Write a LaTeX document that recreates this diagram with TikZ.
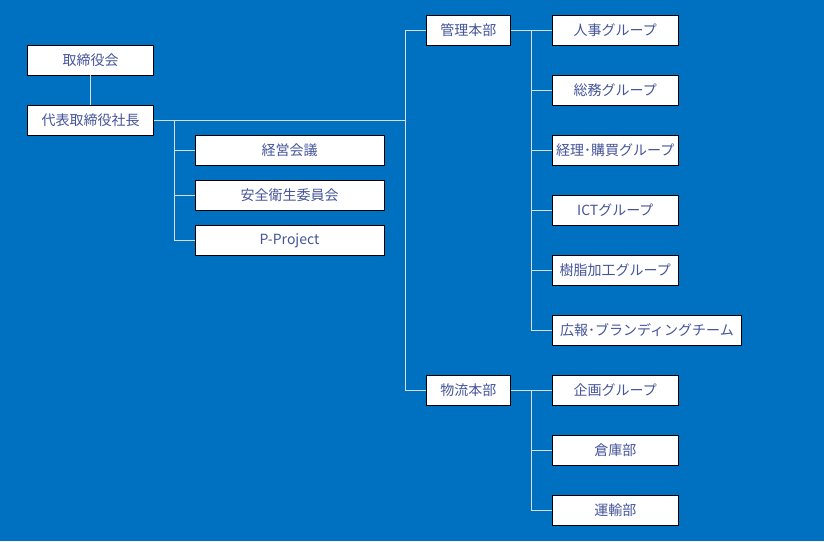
\documentclass[tikz,border=0pt]{standalone}
\usepackage{fontspec}
\newfontfamily\jpfont{Noto Sans CJK JP}
\usetikzlibrary{positioning}
\definecolor{bgblue}{HTML}{0070C0}
\definecolor{txtblue}{HTML}{44549A}
\definecolor{linegray}{HTML}{DCDCDC}
\tikzset{
    unit/.style={draw=black, fill=white, text=txtblue, line width=0.9pt,
        minimum width=#1, minimum height=30pt, inner sep=0pt,
        font=\jpfont\fontsize{14}{16}\selectfont},
    unit/.default=126pt,
    link/.style={draw=linegray, line width=0.9pt}
}
\begin{document}
\begin{tikzpicture}[x=1pt, y=-1pt]
    % background
    \fill[bgblue] (0,0) rectangle (824,541);
    \useasboundingbox (0,0) rectangle (824,541);

    % top of the company
    \node[unit] (board) at (90.5,60) {取締役会};
    \node[unit] (ceo) at (90.5,120) {代表取締役社長};

    % boxes under the president
    \node[unit=189pt] (meet) at (289.5,150.5) {経営会議};
    \node[unit=189pt] (safety) at (289.5,195.5) {安全衛生委員会};
    \node[unit=189pt] (proj) at (289.5,240.5) {P-Project};

    % the two divisions
    \node[unit=84pt] (admin) at (468.3,30) {管理本部};
    \node[unit=84pt] (logi) at (468.3,390) {物流本部};

    % groups of the admin division
    \node[unit] (hr) at (615.3,30) {人事グループ};
    \node[unit] (ga) at (615.3,90) {総務グループ};
    \node[unit] (acc) at (615.3,150) {経理･購買グループ};
    \node[unit] (ict) at (615.3,210) {ICTグループ};
    \node[unit] (resin) at (615.3,270) {樹脂加工グループ};
    \node[unit=189pt] (pr) at (647,330) {広報･ブランディングチーム};

    % groups of the logistics division
    \node[unit] (plan) at (615.3,390) {企画グループ};
    \node[unit] (ware) at (615.3,450) {倉庫部};
    \node[unit] (trans) at (615.3,510) {運輸部};

    % joints of the lines
    \coordinate (ceojoint) at (174.3,120);
    \coordinate (divjoint) at (405.3,120);
    \coordinate (adminjoint) at (531.7,30);
    \coordinate (logijoint) at (531.7,390);

    % lines from the board and the president
    \draw[link] (board) -- (ceo);
    \draw[link] (ceo.east) -- (divjoint);
    \foreach \n in {meet, safety, proj}
        \draw[link] (ceojoint) |- (\n.west);

    % line to the divisions
    \draw[link] (divjoint |- admin) -- (divjoint |- logi);
    \foreach \n in {admin, logi}
        \draw[link] (divjoint |- \n) -- (\n.west);

    % lines to the groups
    \draw[link] (admin.east) -- (hr.west);
    \foreach \n in {ga, acc, ict, resin, pr}
        \draw[link] (adminjoint) |- (\n.west);
    \draw[link] (logi.east) -- (plan.west);
    \foreach \n in {ware, trans}
        \draw[link] (logijoint) |- (\n.west);
\end{tikzpicture}
\end{document}
